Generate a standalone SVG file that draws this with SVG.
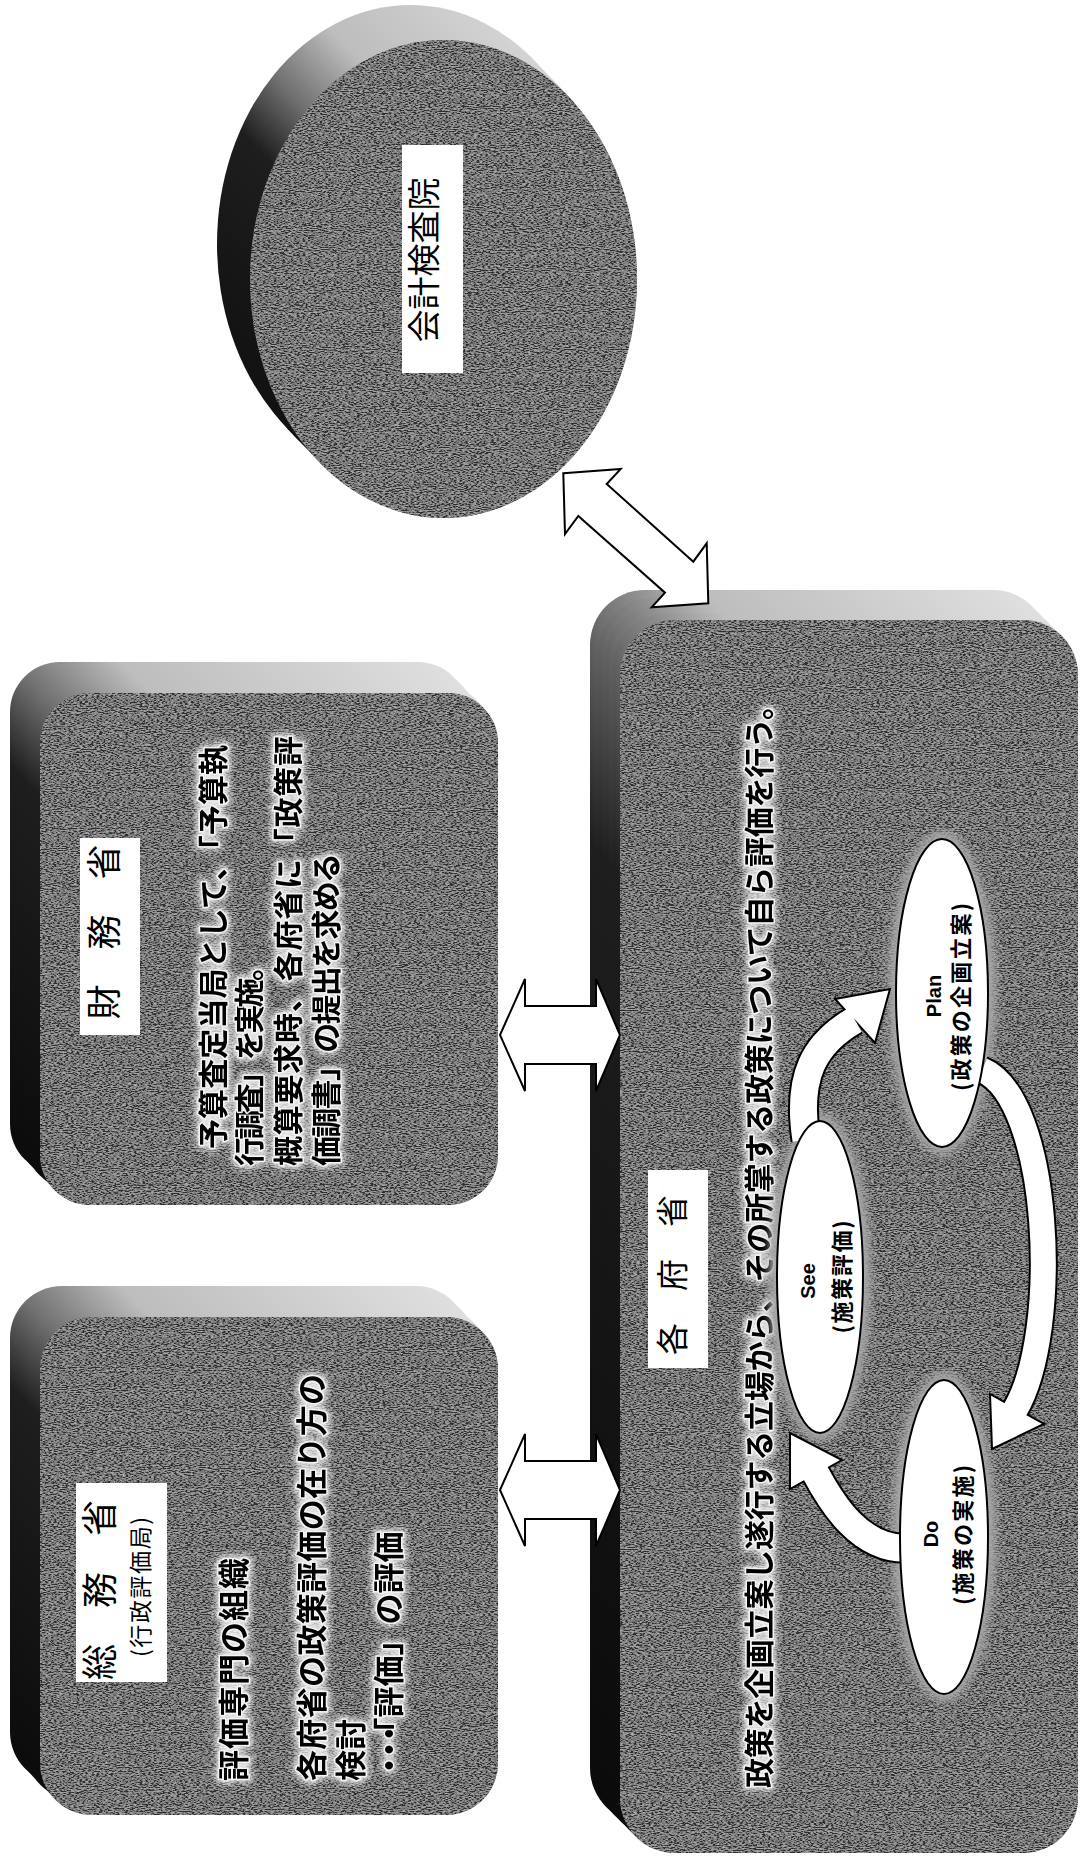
<svg xmlns="http://www.w3.org/2000/svg" xmlns:xlink="http://www.w3.org/1999/xlink" width="1080" height="1858" viewBox="0 0 1080 1858">
<style>
  .face{fill:#5c5c5c}
  .label{fill:#fff}
  .jp{font-family:"Noto Sans CJK JP","Noto Sans CJK SC",sans-serif;fill:#000}
  .lat{font-family:"Liberation Sans","Noto Sans CJK JP",sans-serif;fill:#000}
  .b{font-weight:bold}
  .halo{stroke:#f4f4f4;stroke-width:3;stroke-linejoin:round;paint-order:stroke;filter:url(#glow)}
  .ell{fill:#fff;stroke:#000;stroke-width:2}
  .shadow{fill:#a8a8a8;filter:url(#soft)}
  .blk{fill:#fff;stroke:#000;stroke-width:2;stroke-linejoin:miter}
  .bodyOut{fill:none;stroke:#000;stroke-linecap:butt}
  .bodyIn{fill:none;stroke:#fff;stroke-linecap:butt}
  .grain{fill:#000;filter:url(#grain)}
</style>
<defs>
  <linearGradient id="bevel" x1="0" y1="1" x2="1" y2="0">
    <stop offset="0" stop-color="#0a0a0a"/>
    <stop offset="0.40" stop-color="#1e1e1e"/>
    <stop offset="0.50" stop-color="#707070"/>
    <stop offset="0.62" stop-color="#bdbdbd"/>
    <stop offset="1" stop-color="#e2e2e2"/>
  </linearGradient>
  <filter id="grain" filterUnits="objectBoundingBox" x="0" y="0" width="1" height="1">
    <feTurbulence type="fractalNoise" baseFrequency="0.35 0.95" numOctaves="2" seed="7" result="t"/>
    <feColorMatrix in="t" type="matrix" values="2.6 0 0 0 -1.0  2.6 0 0 0 -1.0  2.6 0 0 0 -1.0  0 0 0 0 0.5" result="n"/>
    <feComposite in="n" in2="SourceGraphic" operator="in"/>
  </filter>
  <filter id="glow" x="-15%" y="-15%" width="130%" height="130%">
    <feMorphology in="SourceAlpha" operator="dilate" radius="2" result="d"/>
    <feGaussianBlur in="d" stdDeviation="3" result="bl"/>
    <feFlood flood-color="#ffffff" flood-opacity="0.8"/>
    <feComposite in2="bl" operator="in" result="g"/>
    <feMerge><feMergeNode in="g"/><feMergeNode in="SourceGraphic"/></feMerge>
  </filter>
  <filter id="soft" x="-30%" y="-30%" width="160%" height="160%">
    <feGaussianBlur stdDeviation="5"/>
  </filter>
  <ellipse id="shpCircle" cx="443.5" cy="279" rx="193.5" ry="239"/>
  <rect id="shpZaimu" x="40" y="693" width="458" height="512" rx="50"/>
  <rect id="shpSomu" x="40" y="1317" width="458" height="498" rx="52"/>
  <rect id="shpKaku" x="620" y="620" width="458" height="1233" rx="55"/>
</defs>

<rect width="1080" height="1858" fill="#fff"/>

<g id="kaikei-kensain">
  <use xlink:href="#shpCircle" transform="translate(-33,-35)" fill="url(#bevel)"/>
  <use xlink:href="#shpCircle" transform="translate(-25,-26)" fill="url(#bevel)"/>
  <use xlink:href="#shpCircle" transform="translate(-16,-17)" fill="url(#bevel)"/>
  <use xlink:href="#shpCircle" transform="translate(-8,-9)" fill="url(#bevel)"/>
  <use xlink:href="#shpCircle" class="face"/>
  <use xlink:href="#shpCircle" class="grain"/>
  <rect class="label" x="402" y="145" width="61" height="228"/>
  <text class="jp" font-size="33" text-anchor="middle" transform="translate(436,260) rotate(-90)">会計検査院</text>
</g>

<g id="zaimusho">
  <use xlink:href="#shpZaimu" transform="translate(-30,-31)" fill="url(#bevel)"/>
  <use xlink:href="#shpZaimu" transform="translate(-22,-23)" fill="url(#bevel)"/>
  <use xlink:href="#shpZaimu" transform="translate(-15,-15)" fill="url(#bevel)"/>
  <use xlink:href="#shpZaimu" transform="translate(-7,-8)" fill="url(#bevel)"/>
  <use xlink:href="#shpZaimu" class="face"/>
  <use xlink:href="#shpZaimu" class="grain"/>
  <rect class="label" x="80" y="838" width="60" height="197"/>
  <text class="jp" font-size="35" text-anchor="middle" transform="translate(117,932) rotate(-90)">財　務　省</text>
  <text class="jp b halo" font-size="30" textLength="404" lengthAdjust="spacing" transform="translate(224,1149) rotate(-90)">予算査定当局として、「予算執</text>
  <text class="jp b halo" font-size="30" textLength="215" lengthAdjust="spacing" transform="translate(260,1166) rotate(-90)">行調査」を実施。</text>
  <text class="jp b halo" font-size="30" textLength="430" lengthAdjust="spacing" transform="translate(299,1166) rotate(-90)">概算要求時、各府省に「政策評</text>
  <text class="jp b halo" font-size="30" textLength="313" lengthAdjust="spacing" transform="translate(337,1166) rotate(-90)">価調書」の提出を求める</text>
</g>

<g id="somusho">
  <use xlink:href="#shpSomu" transform="translate(-30,-31)" fill="url(#bevel)"/>
  <use xlink:href="#shpSomu" transform="translate(-22,-23)" fill="url(#bevel)"/>
  <use xlink:href="#shpSomu" transform="translate(-15,-15)" fill="url(#bevel)"/>
  <use xlink:href="#shpSomu" transform="translate(-7,-8)" fill="url(#bevel)"/>
  <use xlink:href="#shpSomu" class="face"/>
  <use xlink:href="#shpSomu" class="grain"/>
  <rect class="label" x="76" y="1483" width="91" height="199"/>
  <text class="jp" font-size="36" text-anchor="middle" transform="translate(113,1590) rotate(-90)">総　務　省</text>
  <text class="jp" font-size="23" text-anchor="middle" textLength="140" lengthAdjust="spacing" transform="translate(149,1587) rotate(-90)">(行政評価局)</text>
  <text class="jp b halo" font-size="31" textLength="223" lengthAdjust="spacing" transform="translate(245,1781) rotate(-90)">評価専門の組織</text>
  <text class="jp b halo" font-size="31" textLength="407" lengthAdjust="spacing" transform="translate(323,1781) rotate(-90)">各府省の政策評価の在り方の</text>
  <text class="jp b halo" font-size="31" transform="translate(362,1781) rotate(-90)">検討</text>
  <text class="jp b halo" font-size="31" transform="translate(400,1781) rotate(-90)"><tspan letter-spacing="-15">・・・</tspan>「評価」の評価</text>
</g>

<g id="kakufusho">
  <use xlink:href="#shpKaku" transform="translate(-30,-30)" fill="url(#bevel)"/>
  <use xlink:href="#shpKaku" transform="translate(-22,-22)" fill="url(#bevel)"/>
  <use xlink:href="#shpKaku" transform="translate(-15,-15)" fill="url(#bevel)"/>
  <use xlink:href="#shpKaku" transform="translate(-7,-7)" fill="url(#bevel)"/>
  <use xlink:href="#shpKaku" class="face"/>
  <use xlink:href="#shpKaku" class="grain"/>
  <rect class="label" x="648" y="1170" width="60" height="198"/>
  <text class="jp" font-size="32" text-anchor="middle" transform="translate(684,1275) rotate(-90)">各　府　省</text>
  <text class="jp b halo" font-size="30" textLength="1098" lengthAdjust="spacing" transform="translate(770,1788) rotate(-90)">政策を企画立案し遂行する立場から、その所掌する政策について自ら評価を行う。</text>
  <ellipse class="shadow" cx="942" cy="993" rx="54" ry="162"/>
  <ellipse class="shadow" cx="820" cy="1277" rx="51" ry="164"/>
  <ellipse class="shadow" cx="944" cy="1537" rx="52" ry="165"/>
</g>

<g id="connectors">
  <polygon class="blk" points="500,1035 525,979 525,1006 596,1006 596,979 620,1035 596,1091 596,1064 525,1064 525,1091"/>
  <polygon class="blk" points="500,1490 525,1434 525,1461 596,1461 596,1434 620,1490 596,1546 596,1519 525,1519 525,1546"/>
  <polygon class="blk" points="563.3,473.3 620.7,469 606.7,484 693.3,561.7 706.7,543.3 708.3,603.3 651.7,607.3 665,592.7 578.3,516 565,534"/>
  <path class="bodyOut" stroke-width="31" d="M806 1140 C796 1075 815 1043 855 1020"/>
  <polygon class="blk" points="890,989 875,1043 835,999"/>
  <path class="bodyIn" stroke-width="27" d="M806 1140 C796 1075 815 1043 855 1020"/>
  <path class="bodyOut" stroke-width="29" d="M982 1070 C1050 1098 1062 1330 1015 1410"/>
  <polygon class="blk" points="992,1449 1044,1424 990,1394"/>
  <path class="bodyIn" stroke-width="25" d="M982 1070 C1050 1098 1062 1330 1015 1410"/>
  <path class="bodyOut" stroke-width="31" d="M912 1548 C860 1553 830 1500 815 1472"/>
  <polygon class="blk" points="790,1433 842,1460 790,1489"/>
  <path class="bodyIn" stroke-width="27" d="M912 1548 C860 1553 830 1500 815 1472"/>
</g>

<g id="plan">
  <ellipse class="ell" cx="942" cy="993" rx="46" ry="154"/>
  <text class="lat b" font-size="20" text-anchor="middle" transform="translate(941,996) rotate(-90)">Plan</text>
  <text class="jp b" font-size="22" text-anchor="middle" textLength="188" lengthAdjust="spacing" transform="translate(969,997) rotate(-90)">(政策の企画立案)</text>
</g>
<g id="see">
  <ellipse class="ell" cx="820" cy="1277" rx="43" ry="156"/>
  <text class="lat b" font-size="20" text-anchor="middle" transform="translate(815,1281) rotate(-90)">See</text>
  <text class="jp b" font-size="22" text-anchor="middle" textLength="113" lengthAdjust="spacing" transform="translate(850,1277) rotate(-90)">(施策評価)</text>
</g>
<g id="do">
  <ellipse class="ell" cx="944" cy="1537" rx="44" ry="157"/>
  <text class="lat b" font-size="20" text-anchor="middle" transform="translate(938,1534) rotate(-90)">Do</text>
  <text class="jp b" font-size="22" text-anchor="middle" textLength="140" lengthAdjust="spacing" transform="translate(971,1535) rotate(-90)">(施策の実施)</text>
</g>
</svg>
